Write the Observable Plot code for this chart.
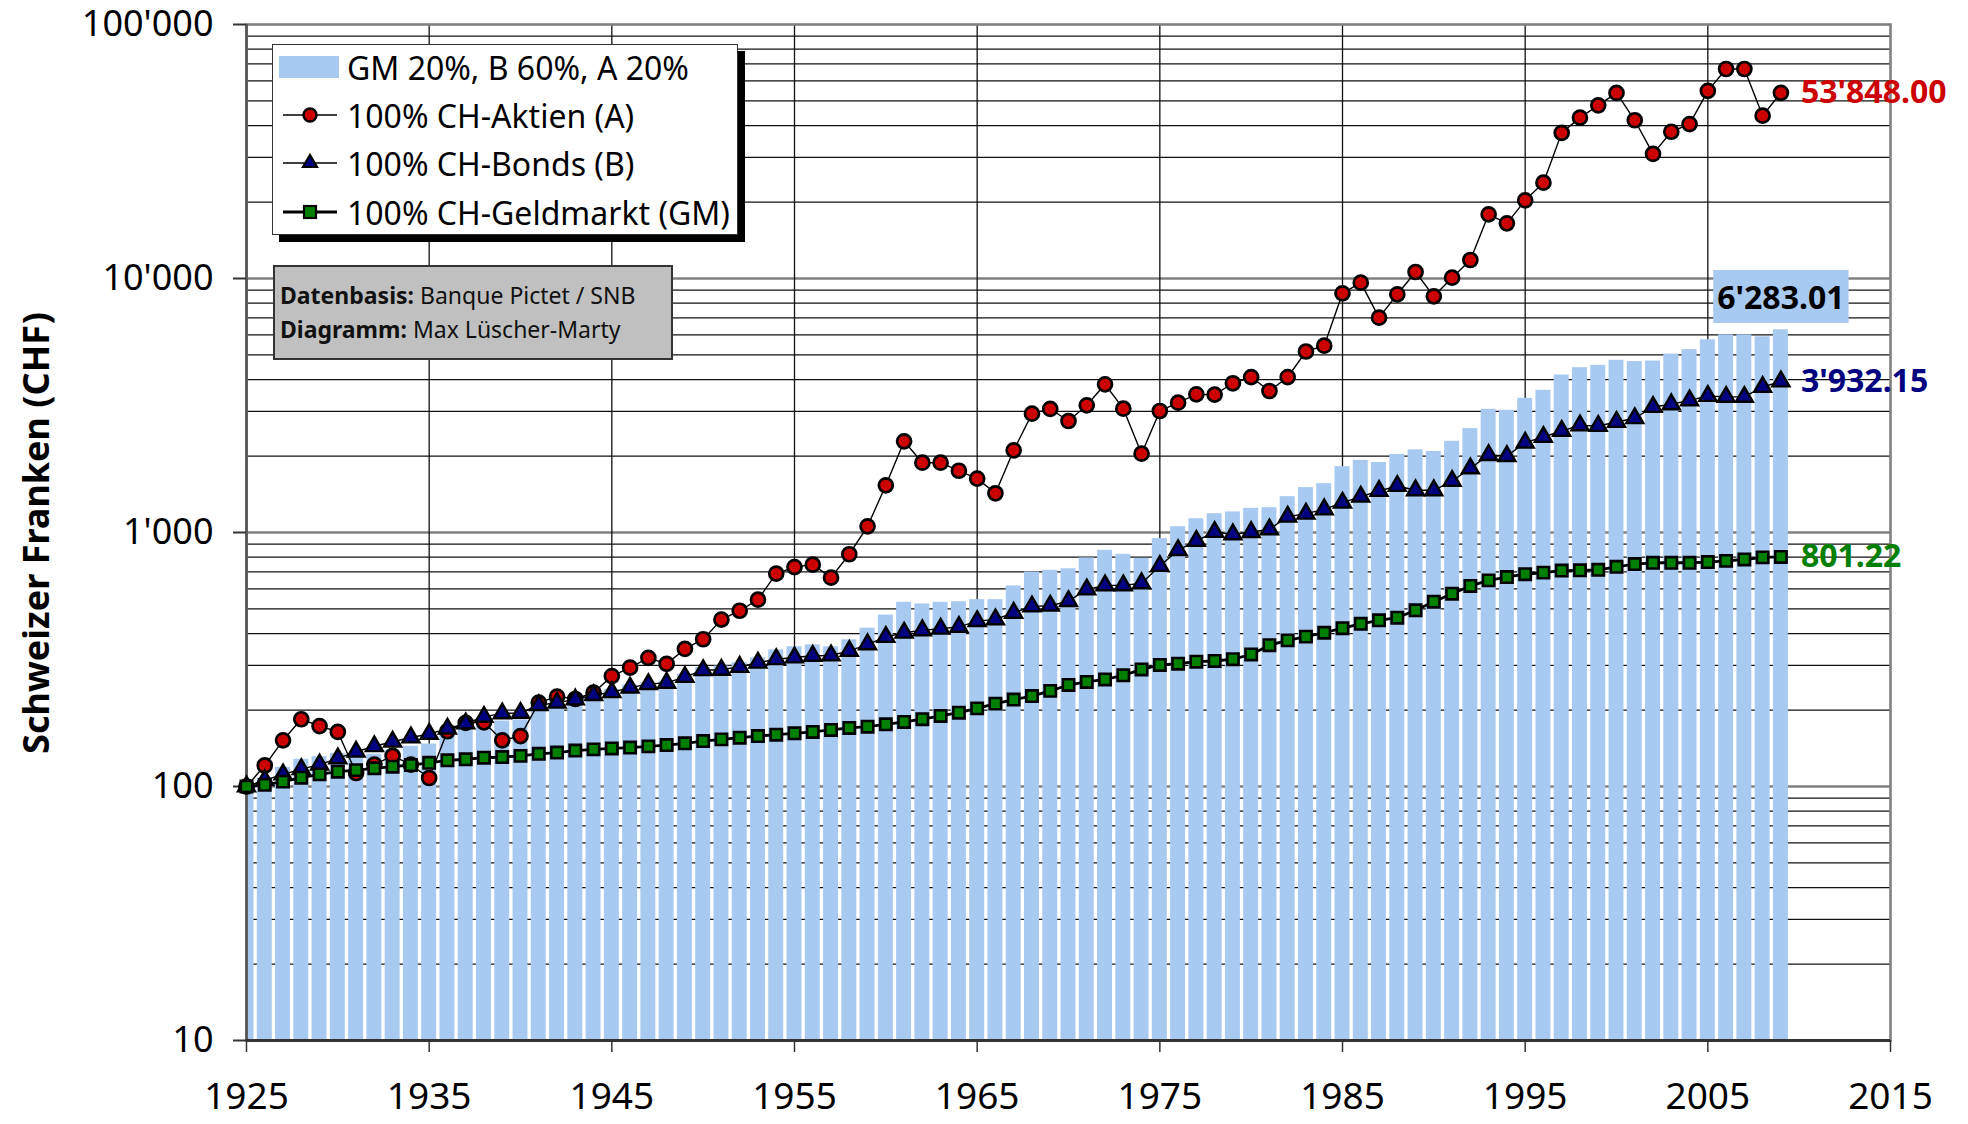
<!DOCTYPE html>
<html><head><meta charset="utf-8">
<script src="https://cdn.jsdelivr.net/npm/d3@7"></script>
<script src="https://cdn.jsdelivr.net/npm/@observablehq/plot@0.6"></script>
<style>
html,body{margin:0;padding:0;background:#fff;}
#wrap{position:relative;width:1968px;height:1124px;font-family:"Noto Sans",sans-serif;overflow:hidden;}
#legend{position:absolute;left:272px;top:44px;width:464px;height:189px;background:#fff;border:1.5px solid #333;box-shadow:7px 7px 0 #000;}
#legend .row{position:absolute;left:0;height:40px;display:flex;align-items:center;}
#legend .row span{font-size:32px;color:#000;margin-left:4px;white-space:nowrap;}
#info{position:absolute;left:273px;top:265px;width:396px;height:91px;background:#c0c0c0;border:2px solid #333;}
#info div{position:absolute;left:5px;font-size:23px;white-space:nowrap;color:#111;}
#info b{font-weight:bold;}
</style></head><body><div id="wrap"></div>
<script>
// ---- data ----
const years = [1925,1926,1927,1928,1929,1930,1931,1932,1933,1934,
  1935,1936,1937,1938,1939,1940,1941,1942,1943,1944,
  1945,1946,1947,1948,1949,1950,1951,1952,1953,1954,
  1955,1956,1957,1958,1959,1960,1961,1962,1963,1964,
  1965,1966,1967,1968,1969,1970,1971,1972,1973,1974,
  1975,1976,1977,1978,1979,1980,1981,1982,1983,1984,
  1985,1986,1987,1988,1989,1990,1991,1992,1993,1994,
  1995,1996,1997,1998,1999,2000,2001,2002,2003,2004,
  2005,2006,2007,2008,2009];
// GM 20%, B 60%, A 20% (bars)
const portfolio = [100,108,119,128,131,135,130,134,139,144,
  147,162,171,178,181,183,205,220,220,231,
  241,251,256,260,277,294,298,307,321,345,
  355,361,355,378,420,473,531,523,531,534,
  544,544,616,699,710,720,794,851,821,791,
  946,1054,1133,1186,1205,1245,1252,1384,1502,1557,
  1816,1924,1886,2028,2115,2084,2286,2564,3055,3027,
  3375,3630,4170,4455,4550,4764,4710,4732,5040,5250,
  5740,6000,6000,5895,6283.01];
// 100% CH-Aktien (A)
const aktien = [100,121,152,184,173,164,113,122,132,122,
  108,165,178,179,152,158,214,226,221,234,
  272,294,321,304,348,380,454,492,544,689,
  731,747,664,821,1058,1534,2286,1883,1883,1750,
  1630,1427,2106,2936,3065,2748,3168,3833,3073,2043,
  3008,3243,3499,3490,3868,4093,3607,4093,5160,5440,
  8745,9627,7011,8667,10607,8509,10077,11824,17886,16490,
  20310,23830,37440,43000,48040,53800,41970,30940,37830,40550,
  54790,66800,66800,43750,53848];
// 100% CH-Bonds (B)
const bonds = [100,106,111.6,117,122,129,137,144,150,156,
  161,169,177,188,194,195,209,214,220,229,
  235,245,253,256,270,287,288,296,307,317,
  322,327,328,342,363,388,403,412,418,425,
  448,455,483,512,515,537,597,619,619,631,
  738,852,926,1005,984,1004,1029,1154,1186,1234,
  1311,1384,1457,1525,1466,1466,1595,1789,2018,2000,
  2258,2377,2510,2642,2626,2723,2817,3119,3197,3313,
  3447,3420,3420,3741,3932.15];
// 100% CH-Geldmarkt (GM)
const geldmarkt = [100,101.5,104.5,108.3,111.6,114.4,116,117.9,119.7,121.5,
  124,126.8,128,129.8,130.6,132,134.5,136,138.5,140,
  141.2,142.3,143.9,145.6,147.9,151,153.3,155.6,158,160,
  162,164,167,170,172,175.8,179.5,184,189.5,195.3,
  203,212,220,227,238,251,258,264,274,289,
  301,304.5,310,312,317,331,360,376,389,403,
  420,437,451,462,494,534,574,616,648,668,
  685,695,708,710,713,733,751,760,760,760,
  765,773,783,798,801.22];
const xTicks = [1925,1935,1945,1955,1965,1975,1985,1995,2005,2015];
const xGrid = [1935,1945,1955,1965,1975,1985,1995,2005];
const yMajor = [10,100,1000,10000,100000];
const yMajorGrid = [100,1000,10000];
const yMinorGrid = [10,100,1000,10000].flatMap(d => [2,3,4,5,6,7,8,9].map(k => k*d));
const legendLabels = ["GM 20%, B 60%, A 20%","100% CH-Aktien (A)","100% CH-Bonds (B)","100% CH-Geldmarkt (GM)"];

const colBar = "#a8caf0", colA = "#cc0000", colB = "#000080", colG = "#008000";
const fmtTick = d => d3.format(",")(d).replace(/,/g, "'");
const fmtVal = d => d3.format(",.2f")(d).replace(/,/g, "'");

const rows = years.map((year, i) => ({year, p: portfolio[i], a: aktien[i], b: bonds[i], g: geldmarkt[i]}));
const last = [rows[rows.length - 1]];

const plot = Plot.plot({
  width: 1968, height: 1124,
  marginLeft: 246, marginRight: 78, marginTop: 24, marginBottom: 84,
  style: {fontFamily: '"Noto Sans", sans-serif', fontSize: "36px", background: "white", color: "black", overflow: "visible"},
  x: {domain: [1925, 2015]},
  y: {type: "log", domain: [10, 100000]},
  marks: [
    Plot.ruleY(yMinorGrid, {stroke: "#111", strokeWidth: 1.3}),
    Plot.ruleY(yMajorGrid, {stroke: "#808080", strokeWidth: 2.6}),
    Plot.ruleX(xGrid, {stroke: "#111", strokeWidth: 1.3}),
    Plot.rectY(rows, {x1: d => d.year - 0.41, x2: d => d.year + 0.41, y1: 10, y2: "p", fill: colBar, clip: true}),
    Plot.frame({stroke: "#808080", strokeWidth: 2.6}),
    Plot.ruleX([1925], {stroke: "#555", strokeWidth: 2.6}),
    Plot.ruleY([10], {stroke: "#333", strokeWidth: 3}),
    Plot.axisY({ticks: yMajor, tickFormat: fmtTick, tickSize: 13, tickPadding: 20, fontSize: 36, stroke: "#333", strokeWidth: 2, label: null}),
    Plot.axisX({ticks: xTicks, tickFormat: d => String(d), tickSize: 12, tickPadding: 30, fontSize: 37, stroke: "#333", strokeWidth: 1.5, label: null}),
    Plot.line(rows, {x: "year", y: "a", stroke: "#000", strokeWidth: 1.4}),
    Plot.dot(rows, {x: "year", y: "a", symbol: "circle", r: 7, fill: colA, stroke: "#000", strokeWidth: 2.7}),
    Plot.line(rows, {x: "year", y: "b", stroke: "#000", strokeWidth: 1.4}),
    Plot.dot(rows, {x: "year", y: "b", symbol: "triangle", r: 6.3, fill: colB, stroke: "#000", strokeWidth: 2.4}),
    Plot.line(rows, {x: "year", y: "g", stroke: "#000", strokeWidth: 2.8}),
    Plot.dot(rows, {x: "year", y: "g", symbol: "square", r: 6.4, fill: colG, stroke: "#000", strokeWidth: 2.6}),
    Plot.text(last, {x: "year", y: "a", text: d => fmtVal(d.a), dx: 20, textAnchor: "start", fill: colA, fontWeight: "bold", fontSize: 32}),
    Plot.text(last, {x: "year", y: "b", text: d => fmtVal(d.b), dx: 20, textAnchor: "start", fill: colB, fontWeight: "bold", fontSize: 32}),
    Plot.text(last, {x: "year", y: "g", text: d => fmtVal(d.g), dx: 20, textAnchor: "start", fill: colG, fontWeight: "bold", fontSize: 32}),
    Plot.text(last, {x: "year", y: "p", text: d => fmtVal(d.p), dy: -31, textAnchor: "middle", fill: "#000", fontWeight: "bold", fontSize: 32})
  ]
});
const wrap = document.getElementById("wrap");
wrap.appendChild(plot);

// background box behind portfolio label (same transform as its text)
const svg = d3.select(plot);
const pfText = fmtVal(portfolio[portfolio.length - 1]);
svg.selectAll("text").filter(function() { return this.textContent === pfText; }).each(function() {
  const bb = this.getBBox();
  const r = document.createElementNS("http://www.w3.org/2000/svg", "rect");
  r.setAttribute("x", bb.x - 4); r.setAttribute("y", bb.y - 5);
  r.setAttribute("width", bb.width + 8); r.setAttribute("height", bb.height + 10);
  r.setAttribute("fill", colBar);
  const tr = this.getAttribute("transform");
  if (tr) r.setAttribute("transform", tr);
  this.parentNode.insertBefore(r, this);
});
// y axis title
svg.append("text")
  .attr("transform", "translate(35,533) rotate(-90)")
  .attr("text-anchor", "middle").attr("dominant-baseline", "central")
  .attr("font-weight", "bold").attr("font-size", 36).attr("fill", "#000")
  .text("Schweizer Franken (CHF)");

// legend
const legend = document.createElement("div");
legend.id = "legend";
const sym = [
  `<rect x="6" y="9" width="60" height="22" fill="${colBar}"/>`,
  `<line x1="10" x2="64" y1="20" y2="20" stroke="#000" stroke-width="1.4"/><circle cx="37" cy="20" r="6.5" fill="${colA}" stroke="#000" stroke-width="2.4"/>`,
  `<line x1="10" x2="64" y1="20" y2="20" stroke="#000" stroke-width="1.4"/><path d="M37,12 L44,24 L30,24 Z" fill="${colB}" stroke="#000" stroke-width="2.2"/>`,
  `<line x1="10" x2="64" y1="20" y2="20" stroke="#000" stroke-width="2.8"/><rect x="31" y="14" width="12" height="12" fill="${colG}" stroke="#000" stroke-width="2.2"/>`
];
const rowTops = [2, 50, 98, 147];
legendLabels.forEach((t, i) => {
  const r = document.createElement("div");
  r.className = "row";
  r.style.top = rowTops[i] + "px";
  r.innerHTML = `<svg width="70" height="40">${sym[i]}</svg><span>${t}</span>`;
  legend.appendChild(r);
});
wrap.appendChild(legend);

const info = document.createElement("div");
info.id = "info";
info.innerHTML = `<div style="top:12px"><b>Datenbasis:</b> Banque Pictet / SNB</div><div style="top:46px"><b>Diagramm:</b> Max Lüscher-Marty</div>`;
wrap.appendChild(info);
</script>
</body></html>
